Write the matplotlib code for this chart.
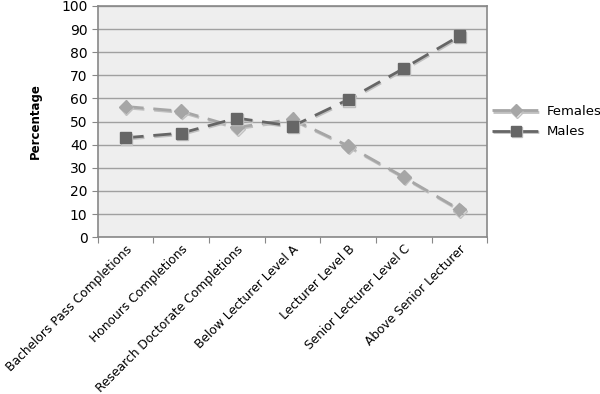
import matplotlib
matplotlib.use("Agg")
from matplotlib import pyplot as plt
import matplotlib.patheffects as pe
import numpy as np

categories = ["Bachelors Pass Completions", "Honours Completions",
              "Research Doctorate Completions", "Below Lecturer Level A",
              "Lecturer Level B", "Senior Lecturer Level C",
              "Above Senior Lecturer"]
females = [56.5, 54.5, 47.5, 51, 39.5, 26, 12]
males = [43, 45, 51.5, 48, 59.5, 73, 87]

fig = plt.figure(figsize=(6, 3.94), dpi=100)
ax = fig.add_axes([0.163, 0.398, 0.649, 0.587])
ax.set_facecolor("#eeeeee")

x = np.arange(len(categories))
shadow = [pe.SimpleLineShadow(offset=(0.6, -1.0), shadow_color="#c0c0c0", alpha=1), pe.Normal()]
ax.plot(x, females, color="#a6a6a6", lw=2, dashes=(6.5, 3.5), marker="D", ms=7,
        mec="#a6a6a6", label="Females", path_effects=shadow, zorder=3)
ax.plot(x, males, color="#666666", lw=2, dashes=(6.5, 3.5), marker="s", ms=8,
        mec="#666666", label="Males", path_effects=shadow, zorder=4)

ax.set_xlim(-0.5, len(categories) - 0.5)
ax.set_ylim(0, 100)
ax.set_yticks(range(0, 101, 10))
ax.yaxis.grid(True, color="#a0a0a0", lw=1)
ax.set_axisbelow(True)
ax.set_xticks(np.arange(-0.5, len(categories), 1.0))
ax.set_xticklabels([])
ax.set_xticks(x, minor=True)
ax.set_xticklabels(categories, minor=True, rotation=45, ha="right",
                   rotation_mode="anchor", fontsize=8.8)
ax.tick_params(axis="x", which="minor", length=0, pad=4)
ax.tick_params(axis="x", which="major", length=4, color="#888888")
ax.tick_params(axis="y", length=4, color="#888888", labelsize=10)
for s in ax.spines.values():
    s.set_color("#888888")
    s.set_linewidth(1.2)
ax.set_ylabel("Percentage", fontsize=8.5, fontweight="bold", labelpad=14)

leg = ax.legend(loc="center left", bbox_to_anchor=(1.0, 0.5), frameon=False,
                fontsize=9.5, handlelength=3.6, handletextpad=0.5, labelspacing=0.55,
                borderpad=0.1, borderaxespad=0.3, markerscale=0.9)

fig.savefig("out.png", dpi=100)
